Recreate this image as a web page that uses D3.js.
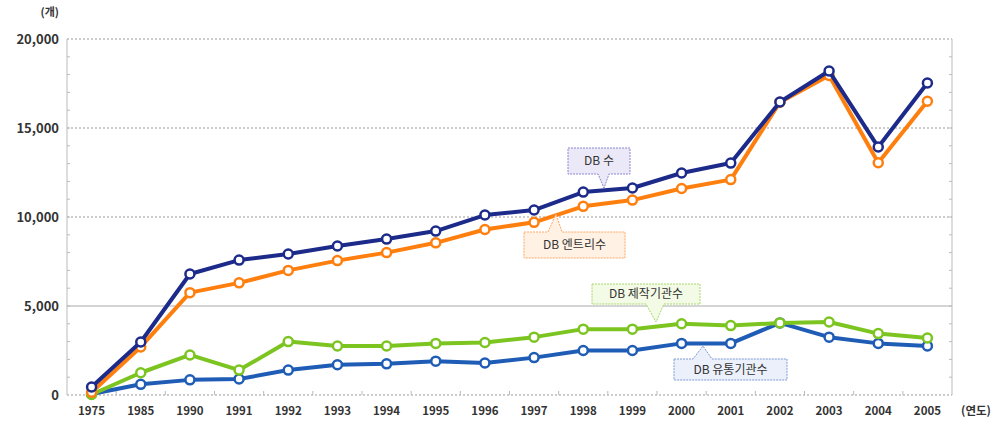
<!DOCTYPE html>
<html>
<head>
<meta charset="utf-8">
<script src="https://cdn.jsdelivr.net/npm/d3@7"></script>
<style>
  body { margin: 0; background: #fff; }
  text { font-family: "Noto Sans CJK KR", "Noto Sans", sans-serif; fill: #333; }
  .tick-lbl { font-size: 12px; font-weight: bold; }
</style>
</head>
<body>
<svg id="chart" width="996" height="428"></svg>
<script>
const years = ['1975','1985','1990','1991','1992','1993','1994','1995','1996','1997','1998','1999','2000','2001','2002','2003','2004','2005'];
const dbCount   = [450, 2980, 6800, 7580, 7920, 8370, 8760, 9210, 10110, 10390, 11400, 11630, 12470, 13030, 16460, 18200, 13930, 17530];
const dbEntries = [150, 2700, 5750, 6300, 7000, 7550, 8000, 8550, 9300, 9700, 10600, 10950, 11600, 12100, 16450, 17950, 13050, 16500];
const dbMakers  = [30, 1250, 2250, 1400, 3000, 2750, 2750, 2900, 2950, 3250, 3700, 3700, 4000, 3900, 4050, 4100, 3450, 3200];
const dbDistrib = [60, 600, 850, 900, 1400, 1700, 1750, 1900, 1800, 2100, 2500, 2500, 2900, 2900, 4050, 3250, 2900, 2750];
const yTicks = [0, 5000, 10000, 15000, 20000];

const margin = { top: 39, right: 44, bottom: 33, left: 67 };
const W = 996, H = 428;
const width = W - margin.left - margin.right;
const height = H - margin.top - margin.bottom;

const svg = d3.select('#chart');
const g = svg.append('g').attr('transform', `translate(${margin.left},${margin.top})`);

const x = d3.scaleBand().domain(years).range([0, width]);
const y = d3.scaleLinear().domain([0, 20000]).range([height, 0]);
const cx = d => x(d) + x.bandwidth() / 2;

// grid lines
yTicks.forEach(t => {
  g.append('line')
    .attr('x1', 0).attr('x2', width)
    .attr('y1', y(t)).attr('y2', y(t))
    .attr('stroke', t === 5000 ? '#aaa' : '#999')
    .attr('stroke-width', 1)
    .attr('stroke-dasharray', t === 5000 ? null : '2,2');
});
// left axis and right border
g.append('line').attr('x1', 0).attr('x2', 0).attr('y1', 0).attr('y2', height).attr('stroke', '#bbb');
g.append('line').attr('x1', width).attr('x2', width).attr('y1', 0).attr('y2', height).attr('stroke', '#bbb');
// minor ticks every 1000
d3.range(1000, 20000, 1000).forEach(v => {
  g.append('line').attr('x1', 0).attr('x2', 3).attr('y1', y(v)).attr('y2', y(v)).attr('stroke', '#bbb');
  g.append('line').attr('x1', width - 3).attr('x2', width).attr('y1', y(v)).attr('y2', y(v)).attr('stroke', '#bbb');
});
// x ticks at band edges
years.slice(1).forEach(yr => {
  g.append('line').attr('x1', x(yr)).attr('x2', x(yr)).attr('y1', height).attr('y2', height - 4).attr('stroke', '#bbb');
});

// y labels
const fmt = d3.format(',');
yTicks.forEach(t => {
  g.append('text').attr('class', 'tick-lbl')
    .attr('x', -8).attr('y', y(t)).attr('dy', '0.35em')
    .attr('text-anchor', 'end').style('font-size', '13px')
    .text(fmt(t));
});
g.append('text').attr('class', 'tick-lbl')
  .attr('x', -8).attr('y', -27).attr('dy', '0.35em')
  .attr('text-anchor', 'end').style('font-size', '11px').text('(개)');

// x labels
years.forEach(yr => {
  g.append('text').attr('class', 'tick-lbl')
    .attr('x', cx(yr)).attr('y', height + 16).attr('dy', '0.35em')
    .attr('text-anchor', 'middle').style('font-size', '11.5px')
    .text(yr);
});
g.append('text').attr('class', 'tick-lbl')
  .attr('x', width + 24).attr('y', height + 16).attr('dy', '0.35em')
  .attr('text-anchor', 'middle').style('font-size', '11.5px').text('(연도)');

// series, bottom to top
const series = [
  { name: 'DB 유통기관수', values: dbDistrib, color: '#1f5cb5' },
  { name: 'DB 제작기관수', values: dbMakers, color: '#7cc520' },
  { name: 'DB 엔트리수', values: dbEntries, color: '#ff7f0e' },
  { name: 'DB 수', values: dbCount, color: '#1c2a8a' }
];

const line = d3.line().x((d, i) => cx(years[i])).y(d => y(d));

series.forEach(s => {
  const sg = g.append('g');
  sg.append('path').datum(s.values)
    .attr('d', line)
    .attr('fill', 'none')
    .attr('stroke', s.color)
    .attr('stroke-width', 4)
    .attr('stroke-linejoin', 'round');
  sg.selectAll('circle').data(s.values).join('circle')
    .attr('cx', (d, i) => cx(years[i]))
    .attr('cy', d => y(d))
    .attr('r', 4.5)
    .attr('fill', '#fff')
    .attr('stroke', s.color)
    .attr('stroke-width', 2.5);
});

// callout labels (box in svg px, pointer tip at px)
const callouts = [
  { text: 'DB 수', box: [568, 148, 62, 26], tip: [604, 188], base: [598, 609], fill: '#ebe9f7', stroke: '#8b86d0' },
  { text: 'DB 엔트리수', box: [524, 232, 101, 26], tip: [556, 214], base: [548, 562], fill: '#fff1e3', stroke: '#ffa766' },
  { text: 'DB 제작기관수', box: [592, 284, 108, 20], tip: [656, 322], base: [646, 664], fill: '#f3fbe6', stroke: '#a8d86a' },
  { text: 'DB 유통기관수', box: [674, 359, 113, 21], tip: [703, 346], base: [693, 712], fill: '#ebf0fa', stroke: '#7f9ad6' }
];

callouts.forEach(c => {
  const [bx, by, bw, bh] = c.box;
  const [tx, ty] = c.tip;
  const [b0, b1] = c.base;
  const p = d3.path();
  if (ty > by + bh) {
    // pointer below
    p.moveTo(bx, by); p.lineTo(bx + bw, by); p.lineTo(bx + bw, by + bh);
    p.lineTo(b1, by + bh); p.lineTo(tx, ty); p.lineTo(b0, by + bh);
    p.lineTo(bx, by + bh); p.closePath();
  } else {
    // pointer above
    p.moveTo(bx, by); p.lineTo(b0, by); p.lineTo(tx, ty); p.lineTo(b1, by);
    p.lineTo(bx + bw, by); p.lineTo(bx + bw, by + bh); p.lineTo(bx, by + bh); p.closePath();
  }
  svg.append('path').attr('d', p.toString())
    .attr('fill', c.fill).attr('stroke', c.stroke)
    .attr('stroke-width', 1).attr('stroke-dasharray', '2,1');
  svg.append('text')
    .attr('x', bx + bw / 2).attr('y', by + bh / 2).attr('dy', '0.35em')
    .attr('text-anchor', 'middle')
    .style('font-size', '12px')
    .text(c.text);
});
</script>
</body>
</html>
